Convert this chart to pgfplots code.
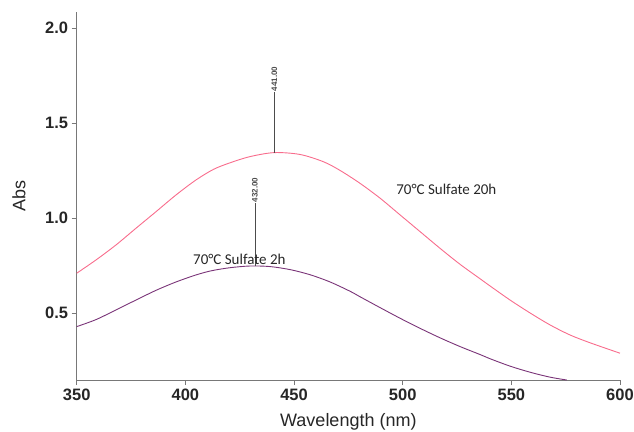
\documentclass[border=0pt]{standalone}
\usepackage{fontspec}
\setmainfont{Liberation Sans}
\newfontfamily\calib{Carlito}
\usepackage{pgfplots}
\pgfplotsset{compat=1.18}

\definecolor{pinkline}{RGB}{248,108,140}
\definecolor{purpleline}{RGB}{122,52,120}
\definecolor{axisgray}{RGB}{120,120,120}

\begin{document}
\begin{tikzpicture}
\useasboundingbox (-76.7pt,-51pt) rectangle (557.3pt,380pt);
\begin{axis}[
scale only axis,
width=543.3pt,height=368pt,
xmin=350,xmax=600,ymin=0.147,ymax=2.084,
axis x line*=bottom,axis y line*=left,
axis line style={draw=axisgray,line width=0.8pt,-},
tick style={draw=axisgray,line width=0.8pt},
tick align=outside,major tick length=5pt,
xtick={350,400,450,500,550,600},
ytick={0.5,1.0,1.5,2.0},
yticklabel style={/pgf/number format/.cd,fixed,fixed zerofill,precision=1},
xticklabel style={/pgf/number format/.cd,1000 sep={}},
/pgf/number format/assume math mode=true,
tick label style={font=\bfseries\fontsize{16.5}{16.5}\selectfont,text=black!85},
xlabel={Wavelength (nm)},ylabel={Abs},
xlabel style={at={(axis description cs:0.5,0)},anchor=north,yshift=-33pt,inner sep=0pt,
  font=\fontsize{18}{18}\selectfont,text=black!85},
ylabel style={at={(axis description cs:-0.094,0.5)},anchor=south,inner sep=0pt,
  font=\fontsize{18}{18}\selectfont,text=black!85},
clip=true
]
% 70C sulfate 20h
\addplot[pinkline,line width=0.9pt,smooth,tension=0.5] coordinates {
(350,0.709)(358.9,0.779)(368.1,0.858)(377.3,0.946)(386.5,1.033)(395.7,1.121)
(404.9,1.200)(413,1.256)(420.5,1.290)(429.8,1.323)(441,1.344)(452.8,1.334)
(463.5,1.296)(471.2,1.250)(480.4,1.182)(489.6,1.104)(498.8,1.016)(508,0.928)
(517.2,0.840)(526.4,0.756)(535.6,0.680)(540.2,0.642)(549.4,0.568)(558.6,0.500)
(567.8,0.437)(577,0.384)(586.2,0.343)(600,0.288)};
% 70C sulfate 2h
\addplot[purpleline,line width=0.9pt,smooth,tension=0.5] coordinates {
(350,0.428)(358.9,0.465)(368.1,0.516)(377.3,0.568)(386.5,0.619)(395.7,0.663)
(404.9,0.700)(412,0.722)(420.5,0.738)(429.8,0.747)(439,0.744)(448.2,0.728)
(457.4,0.701)(466.6,0.663)(475.8,0.614)(480.4,0.585)(489.6,0.528)(498.8,0.472)
(508,0.419)(517.2,0.369)(526.4,0.323)(535.6,0.281)(540.2,0.259)(549.4,0.220)
(558.6,0.188)(567.8,0.162)(575.5,0.147)};
% peak markers
\addplot[black!70,line width=0.6pt] coordinates {(441,1.344)(441,1.663)};
\addplot[black!70,line width=0.6pt] coordinates {(432,0.747)(432,1.079)};
\node[rotate=90,anchor=west,inner sep=0.5pt,font=\bfseries\fontsize{8}{8}\selectfont,text=black!70]
  at (axis cs:441,1.663) {441.00};
\node[rotate=90,anchor=west,inner sep=0.5pt,font=\bfseries\fontsize{8}{8}\selectfont,text=black!70]
  at (axis cs:432,1.079) {432.00};
\node[anchor=west,inner sep=0pt,font=\calib\fontsize{15}{15}\selectfont,text=black!85]
  at (axis cs:497,1.153) {70°C Sulfate 20h};
\node[anchor=west,inner sep=0pt,font=\calib\fontsize{15}{15}\selectfont,text=black!85]
  at (axis cs:403.5,0.784) {70°C Sulfate 2h};
\end{axis}
\end{tikzpicture}
\end{document}
